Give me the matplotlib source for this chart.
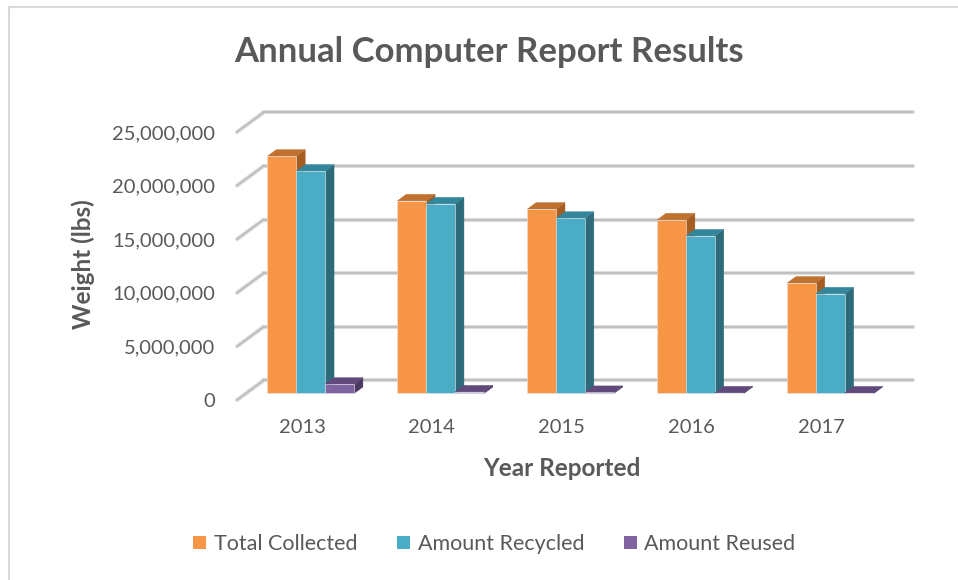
import matplotlib.pyplot as plt
from matplotlib.patches import Polygon, Patch
from matplotlib.lines import Line2D
import numpy as np

plt.rcParams['font.family'] = ['Lato', 'DejaVu Sans']

years = ["2013", "2014", "2015", "2016", "2017"]
total_collected = [22140000, 17970000, 17200000, 16200000, 10300000]
amount_recycled = [20740000, 17690000, 16350000, 14700000, 9300000]
amount_reused = [870000, 150000, 100000, 60000, 50000]
series_names = ["Total Collected", "Amount Recycled", "Amount Reused"]
y_ticks = [0, 5000000, 10000000, 15000000, 20000000, 25000000]

# face colours: front, top, side
colors = [("#F79646", "#C0712F", "#A65D22"),
          ("#4BACC6", "#34869C", "#2E6B7A"),
          ("#8064A2", "#604A7B", "#4B3A63")]
text_col = "#595959"

W, H = 958, 580
fig = plt.figure(figsize=(W / 100, H / 100), dpi=100)
ax = fig.add_axes([237 / W, 180 / H, 649.5 / W, 268 / H])
ax.set_xlim(-0.5, 4.5)
ax.set_ylim(0, 25000000)

# oblique depth vector (in data units) for full floor depth
DX = 0.204
DY = 1820000

# back wall + side wall gridlines
for v in y_ticks:
    for lw, c in [(3.0, "#dedede"), (1.3, "#bcbcbc")]:
        ax.plot([-0.5 + DX, 4.5 + DX], [v + DY, v + DY], color=c, lw=lw,
                clip_on=False, zorder=1, solid_capstyle="round")
        ax.plot([-0.5, -0.5 + DX], [v, v + DY], color=c, lw=lw,
                clip_on=False, zorder=1, solid_capstyle="round")

w = 0.2222
d0, d1 = 1 / 3, 2 / 3
x = np.arange(len(years))
data = [total_collected, amount_recycled, amount_reused]
z = 3
for i in range(len(years)):
    for j, vals in enumerate(data):
        v = vals[i]
        x0 = x[i] - 1.5 * w + j * w
        front, top, side = colors[j]
        fx = x0 + d0 * DX
        by = d0 * DY
        side_pts = [(fx + w, by), (x0 + w + d1 * DX, d1 * DY),
                    (x0 + w + d1 * DX, v + d1 * DY), (fx + w, v + by)]
        top_pts = [(fx, v + by), (fx + w, v + by),
                   (x0 + w + d1 * DX, v + d1 * DY), (x0 + d1 * DX, v + d1 * DY)]
        ax.add_patch(Polygon(side_pts, closed=True, fc=side, ec=side, lw=0.3,
                             zorder=z, clip_on=False))
        ax.add_patch(Polygon(top_pts, closed=True, fc=top, ec=top, lw=0.3,
                             zorder=z, clip_on=False))
        ax.bar(fx, v, width=w, bottom=by, align="edge", color=front,
               edgecolor="#e6e6e6", linewidth=0.4, zorder=z + 0.5, clip_on=False)
        z += 1

for s in ax.spines.values():
    s.set_visible(False)
ax.set_yticks(y_ticks)
ax.set_yticklabels([f"{v:,}" for v in y_ticks])
ax.set_xticks(x)
ax.set_xticklabels(years)
ax.tick_params(length=0, labelsize=14.5, labelcolor=text_col)
ax.tick_params(axis="y", pad=16)
ax.tick_params(axis="x", pad=14)
ax.patch.set_visible(False)

fig.text(488.5 / W, 1 - 52 / H, "Annual Computer Report Results", ha="center",
         va="center", fontsize=25, fontweight="bold", color=text_col)
fig.text(83 / W, 1 - 264 / H, "Weight (lbs)", ha="center", va="center",
         rotation=90, fontsize=17.5, fontweight="bold", color=text_col)
fig.text(562 / W, 1 - 468 / H, "Year Reported", ha="center", va="center",
         fontsize=17.5, fontweight="bold", color=text_col)

handles = [Patch(fc=c[0], ec="none") for c in colors]
leg = fig.legend(handles, series_names, loc="center", ncol=3,
                 bbox_to_anchor=(494.5 / W, 1 - 544 / H), frameon=False,
                 fontsize=15.5, handlelength=0.6, handleheight=0.6,
                 handletextpad=0.35, columnspacing=1.85)
for t in leg.get_texts():
    t.set_color(text_col)

# chart area border (top and left edges visible)
fig.add_artist(Line2D([8.5 / W, 1], [1 - 6.5 / H, 1 - 6.5 / H], color="#d9d9d9", lw=1.5))
fig.add_artist(Line2D([8.5 / W, 8.5 / W], [0, 1 - 6.5 / H], color="#d9d9d9", lw=1.5))

fig.savefig("out.png", dpi=100)
